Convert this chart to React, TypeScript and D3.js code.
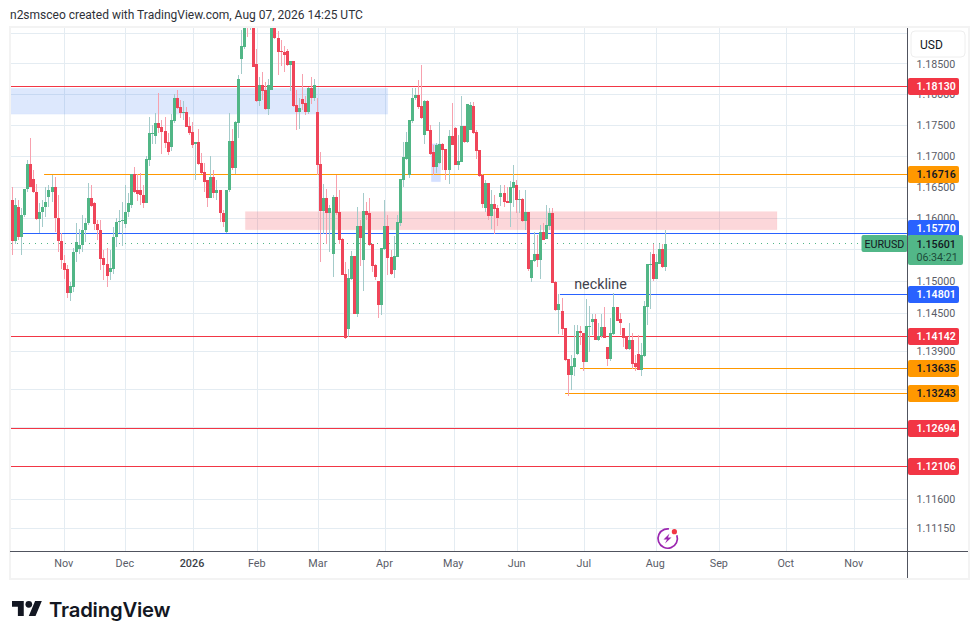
import React from "react";
import * as d3 from "d3";

const opens = [
1.1629,1.1564,1.1619,1.1570,1.1605,1.1647,1.1688,1.1664,1.1643,1.1599,
1.1610,1.1618,1.1635,1.1643,1.1651,1.1601,1.1564,1.1529,1.1519,1.1481,
1.1491,1.1546,1.1552,1.1557,1.1581,1.1592,1.1633,1.1624,1.1591,1.1582,
1.1537,1.1527,1.1515,1.1520,1.1570,1.1595,1.1596,1.1591,1.1610,1.1622,
1.1672,1.1645,1.1646,1.1638,1.1625,1.1694,1.1736,1.1733,1.1754,1.1747,
1.1741,1.1723,1.1715,1.1757,1.1794,1.1779,1.1770,1.1771,1.1749,1.1739,
1.1719,1.1723,1.1689,1.1675,1.1661,1.1633,1.1667,1.1641,1.1645,1.1609,
1.1579,1.1645,1.1725,1.1681,1.1754,1.1858,1.1877,1.1960,1.1925,1.1935,
1.1850,1.1789,1.1816,1.1807,1.1776,1.1808,1.1935,1.1893,1.1871,1.1869,
1.1871,1.1848,1.1855,1.1783,1.1771,1.1792,1.1786,1.1771,1.1810,1.1795,
1.1771,1.1688,1.1612,1.1633,1.1608,1.1543,1.1635,1.1611,1.1568,1.1511,
1.1425,1.1503,1.1540,1.1449,1.1588,1.1534,1.1612,1.1608,1.1559,1.1526,
1.1500,1.1462,1.1551,1.1588,1.1539,1.1518,1.1539,1.1593,1.1662,1.1696,
1.1669,1.1757,1.1794,1.1799,1.1781,1.1734,1.1789,1.1742,1.1706,1.1683,
1.1689,1.1720,1.1712,1.1677,1.1733,1.1746,1.1686,1.1691,1.1749,1.1723,
1.1743,1.1782,1.1739,1.1710,1.1670,1.1617,1.1657,1.1604,1.1623,1.1617,
1.1634,1.1641,1.1628,1.1625,1.1649,1.1653,1.1630,1.1631,1.1596,1.1610,
1.1506,1.1532,1.1543,1.1533,1.1578,1.1568,1.1588,1.1609,1.1499,1.1454,
1.1453,1.1426,1.1377,1.1352,1.1365,1.1385,1.1421,1.1419,1.1373,1.1429,
1.1435,1.1440,1.1408,1.1413,1.1427,1.1397,1.1377,1.1416,1.1459,1.1440,
1.1426,1.1413,1.1393,1.1408,1.1371,1.1385,1.1361,1.1382,1.1459,1.1526,
1.1544,1.1504,1.1528,1.1552,1.1522];

const highs = [
1.1650,1.1632,1.1630,1.1616,1.1648,1.1694,1.1730,1.1678,1.1656,1.1624,
1.1630,1.1650,1.1653,1.1670,1.1667,1.1638,1.1577,1.1542,1.1526,1.1499,
1.1553,1.1592,1.1583,1.1606,1.1600,1.1657,1.1654,1.1626,1.1598,1.1598,
1.1550,1.1553,1.1550,1.1587,1.1601,1.1614,1.1627,1.1654,1.1641,1.1672,
1.1683,1.1672,1.1673,1.1654,1.1701,1.1763,1.1750,1.1770,1.1803,1.1759,
1.1763,1.1737,1.1769,1.1800,1.1808,1.1791,1.1789,1.1780,1.1764,1.1755,
1.1723,1.1744,1.1705,1.1689,1.1662,1.1700,1.1678,1.1662,1.1645,1.1614,
1.1646,1.1770,1.1744,1.1757,1.1832,1.1905,1.1950,1.1975,1.1965,1.1950,
1.1874,1.1829,1.1837,1.1821,1.1826,1.1950,1.1945,1.1903,1.1889,1.1879,
1.1874,1.1855,1.1855,1.1807,1.1795,1.1834,1.1797,1.1812,1.1829,1.1826,
1.1795,1.1707,1.1656,1.1648,1.1622,1.1638,1.1669,1.1646,1.1569,1.1531,
1.1520,1.1548,1.1540,1.1618,1.1598,1.1641,1.1627,1.1632,1.1560,1.1527,
1.1500,1.1553,1.1629,1.1606,1.1550,1.1572,1.1606,1.1664,1.1723,1.1739,
1.1759,1.1811,1.1810,1.1823,1.1848,1.1791,1.1791,1.1750,1.1718,1.1721,
1.1755,1.1722,1.1712,1.1742,1.1786,1.1748,1.1734,1.1797,1.1749,1.1784,
1.1787,1.1787,1.1742,1.1710,1.1671,1.1662,1.1657,1.1645,1.1637,1.1621,
1.1653,1.1653,1.1650,1.1660,1.1686,1.1662,1.1645,1.1632,1.1645,1.1611,
1.1533,1.1578,1.1573,1.1589,1.1592,1.1621,1.1616,1.1616,1.1501,1.1480,
1.1474,1.1426,1.1378,1.1383,1.1431,1.1431,1.1429,1.1419,1.1472,1.1461,
1.1448,1.1448,1.1434,1.1448,1.1459,1.1397,1.1442,1.1482,1.1459,1.1450,
1.1426,1.1413,1.1434,1.1418,1.1383,1.1415,1.1402,1.1469,1.1527,1.1546,
1.1560,1.1544,1.1559,1.1560,1.1581];

const lows = [
1.1542,1.1560,1.1566,1.1542,1.1603,1.1642,1.1650,1.1641,1.1598,1.1577,
1.1587,1.1603,1.1619,1.1627,1.1579,1.1547,1.1520,1.1504,1.1473,1.1469,
1.1483,1.1530,1.1544,1.1547,1.1563,1.1590,1.1619,1.1582,1.1566,1.1518,
1.1502,1.1491,1.1502,1.1511,1.1555,1.1577,1.1556,1.1585,1.1603,1.1617,
1.1641,1.1628,1.1622,1.1616,1.1624,1.1684,1.1719,1.1720,1.1737,1.1704,
1.1713,1.1702,1.1708,1.1753,1.1776,1.1762,1.1759,1.1747,1.1734,1.1714,
1.1661,1.1686,1.1672,1.1642,1.1619,1.1632,1.1633,1.1630,1.1594,1.1587,
1.1577,1.1643,1.1678,1.1671,1.1729,1.1834,1.1875,1.1894,1.1905,1.1844,
1.1788,1.1781,1.1791,1.1775,1.1767,1.1807,1.1890,1.1832,1.1847,1.1836,
1.1847,1.1805,1.1780,1.1742,1.1744,1.1775,1.1767,1.1769,1.1785,1.1789,
1.1670,1.1531,1.1576,1.1560,1.1547,1.1507,1.1606,1.1559,1.1510,1.1409,
1.1412,1.1502,1.1448,1.1443,1.1524,1.1484,1.1598,1.1556,1.1515,1.1502,
1.1442,1.1446,1.1550,1.1510,1.1510,1.1505,1.1538,1.1588,1.1651,1.1694,
1.1665,1.1753,1.1791,1.1777,1.1760,1.1720,1.1740,1.1702,1.1670,1.1673,
1.1688,1.1678,1.1662,1.1656,1.1718,1.1686,1.1677,1.1690,1.1721,1.1722,
1.1742,1.1736,1.1696,1.1667,1.1617,1.1610,1.1597,1.1583,1.1576,1.1588,
1.1620,1.1619,1.1624,1.1587,1.1619,1.1608,1.1608,1.1595,1.1581,1.1517,
1.1499,1.1530,1.1522,1.1503,1.1565,1.1567,1.1581,1.1498,1.1453,1.1417,
1.1415,1.1375,1.1319,1.1329,1.1351,1.1383,1.1399,1.1359,1.1372,1.1389,
1.1415,1.1407,1.1405,1.1411,1.1410,1.1367,1.1375,1.1415,1.1437,1.1415,
1.1397,1.1391,1.1392,1.1362,1.1359,1.1361,1.1351,1.1381,1.1431,1.1456,
1.1501,1.1503,1.1527,1.1521,1.1517];

const closes = [
1.1564,1.1622,1.1570,1.1606,1.1648,1.1688,1.1650,1.1642,1.1599,1.1611,
1.1619,1.1627,1.1645,1.1651,1.1600,1.1564,1.1534,1.1518,1.1481,1.1492,
1.1547,1.1563,1.1557,1.1582,1.1593,1.1633,1.1620,1.1591,1.1581,1.1536,
1.1526,1.1508,1.1521,1.1571,1.1595,1.1596,1.1597,1.1611,1.1624,1.1672,
1.1643,1.1640,1.1637,1.1625,1.1696,1.1738,1.1738,1.1754,1.1746,1.1739,
1.1722,1.1707,1.1759,1.1794,1.1778,1.1770,1.1771,1.1748,1.1738,1.1718,
1.1723,1.1688,1.1673,1.1659,1.1632,1.1667,1.1641,1.1645,1.1608,1.1595,
1.1646,1.1725,1.1681,1.1755,1.1826,1.1879,1.1935,1.1925,1.1950,1.1845,
1.1789,1.1816,1.1805,1.1776,1.1815,1.1935,1.1892,1.1869,1.1869,1.1864,
1.1848,1.1855,1.1781,1.1771,1.1778,1.1784,1.1771,1.1810,1.1795,1.1816,
1.1686,1.1612,1.1633,1.1608,1.1617,1.1635,1.1609,1.1566,1.1510,1.1411,
1.1505,1.1540,1.1449,1.1588,1.1569,1.1612,1.1606,1.1558,1.1524,1.1507,
1.1462,1.1553,1.1588,1.1537,1.1511,1.1540,1.1595,1.1664,1.1698,1.1723,
1.1759,1.1795,1.1799,1.1779,1.1762,1.1789,1.1741,1.1704,1.1683,1.1718,
1.1720,1.1710,1.1677,1.1733,1.1718,1.1686,1.1693,1.1749,1.1723,1.1784,
1.1783,1.1737,1.1708,1.1668,1.1623,1.1657,1.1604,1.1623,1.1615,1.1601,
1.1641,1.1626,1.1625,1.1650,1.1658,1.1629,1.1631,1.1596,1.1610,1.1519,
1.1533,1.1543,1.1533,1.1578,1.1565,1.1589,1.1609,1.1498,1.1454,1.1464,
1.1424,1.1376,1.1352,1.1366,1.1379,1.1421,1.1419,1.1373,1.1430,1.1430,
1.1440,1.1408,1.1414,1.1427,1.1411,1.1377,1.1418,1.1459,1.1438,1.1434,
1.1411,1.1393,1.1408,1.1369,1.1365,1.1361,1.1384,1.1461,1.1527,1.1527,
1.1504,1.1530,1.1552,1.1522,1.1560];

const priceGrid = [1.19,1.185,1.18,1.175,1.17,1.165,1.16,1.155,1.15,1.145,1.139,1.133,1.127,1.121,1.116,1.1115];
const priceLabels = [1.185,1.18,1.175,1.17,1.165,1.16,1.15,1.145,1.139,1.116,1.1115];
const monthLabels = ["Nov","Dec","2026","Feb","Mar","Apr","May","Jun","Jul","Aug","Sep","Oct","Nov"];
const monthBars = [17,37,59,80.2,100.2,122,144.5,165.3,187.3,210.7,231.5,253.4,275.7];

const redLevels = [1.1813,1.14142,1.12694,1.12106];
const orangeLevels = [1.16716,1.13635,1.13243];
const blueLevels = [1.1577,1.14801];
const lastPrice = 1.15601;
const lastCountdown = "06:34:21";
const symbol = "EURUSD";
const currency = "USD";
const necklineText = "neckline";
const headerText = "n2smsceo created with TradingView.com, Aug 07, 2026 14:25 UTC";
const brandText = "TradingView";

// zones: [first bar, last bar, upper price, lower price]
const blueZone = [-1, 122.9, 1.1810, 1.1768];
const pinkZone = [76.3, 250.4, 1.1611, 1.1582];
const smallZone = [137.2, 140.2, 1.1720, 1.1659];
// where lines drawn from a bar rather than from the chart edge
const lineStartBar = new Map<number, number>([[1.16716,10.4],[1.14801,179.3],[1.13635,185.9],[1.13243,181]]);
// tags that the axis pushes aside so they stay readable
const tagShift = new Map<number, number>([[1.1577,-4.5]]);

const C = {
  red: "#f23645", orange: "#ff9800", blue: "#2962ff", up: "#51b686", down: "#ef4559",
  upWick: "#a4cbca", downWick: "#f7a1ae", grid: "#e4ecf2", axis: "#50535e", frame: "#f3f3f3",
  tick: "#5a5d68", lastBg: "#52b788",
};
const FONT = "Roboto, 'Liberation Sans', sans-serif";

const x = d3.scaleLinear().domain([0, 214]).range([12.33, 12.33 + 3.054 * 214]);
const y = d3.scaleLog().base(Math.E).domain([1.1115, 1.185]).range([528.3, 63.8]);
const L = 11, R = 907, T = 28, B = 551;

function hy(v: number) { return Math.round(y(v)) + 0.5; }
function gy(v: number) { return Math.round(y(v) - 0.35) + 0.5; }

function Tag({ v, color, text, textColor }: { v: number; color: string; text: string; textColor: string }) {
  const yy = y(v) + (tagShift.get(v) ?? 0);
  return (
    <g>
      <rect x={908} y={Math.round(yy) - 8} width={51} height={17} rx={2} fill={color} />
      <text x={916.5} y={yy + 4} fontFamily={FONT} fontSize={10.6} fontWeight={600} fill={textColor}>{text}</text>
    </g>
  );
}

function Zone({ z, fill, stroke }: { z: number[]; fill: string; stroke: string }) {
  const x0 = x(z[0]), x1 = x(z[1]), y0 = y(z[2]), y1 = y(z[3]);
  return <rect x={x0} y={y0} width={x1 - x0} height={y1 - y0} fill={fill} stroke={stroke} strokeWidth={1} />;
}

function Level({ v, color }: { v: number; color: string }) {
  const s = lineStartBar.get(v);
  return <line x1={s === undefined ? L : x(s)} x2={R} y1={hy(v)} y2={hy(v)} stroke={color} strokeWidth={1} />;
}

export default function App() {
  React.useEffect(() => { document.body.style.background = "#fff"; document.body.style.margin = "0"; }, []);
  return (
    <svg width={979} height={639} viewBox="0 0 979 639" style={{ display: "block", position: "absolute", left: 0, top: 0 }}>
      <defs>
        <clipPath id="plot"><rect x={L} y={T} width={R - L} height={B - T} /></clipPath>
      </defs>
      <rect width={979} height={639} fill="#fff" />
      <text x={10} y={19} fontFamily={FONT} fontSize={12} fill="#2e3138">{headerText}</text>

      <rect x={10} y={27} width={959} height={552} fill="#fff" stroke={C.frame} strokeWidth={2} />

      <g clipPath="url(#plot)">
        {priceGrid.map(t => <line key={t} x1={L} x2={R} y1={gy(t)} y2={gy(t)} stroke={C.grid} />)}
        {monthBars.map((b, i) => <line key={i} x1={Math.round(x(b)) + 0.5} x2={Math.round(x(b)) + 0.5} y1={T} y2={B} stroke={C.grid} />)}

        <Zone z={blueZone} fill="rgba(41,110,245,0.16)" stroke="rgba(41,98,255,0.03)" />
        <Zone z={pinkZone} fill="rgba(242,54,69,0.2)" stroke="rgba(242,54,69,0.03)" />
        <Zone z={smallZone} fill="rgba(41,98,255,0.2)" stroke="rgba(41,98,255,0.04)" />

        {redLevels.map(v => <Level key={v} v={v} color={C.red} />)}
        {orangeLevels.map(v => <Level key={v} v={v} color={C.orange} />)}
        {blueLevels.map(v => <Level key={v} v={v} color={C.blue} />)}
        <line x1={L} x2={R} y1={hy(lastPrice)} y2={hy(lastPrice)} stroke={C.up} strokeDasharray="1 5" />

        {opens.map((o, i) => {
          const c = closes[i], up = c >= o;
          const px = Math.floor(x(i));
          const top = Math.round(y(Math.max(o, c)));
          const bot = Math.round(y(Math.min(o, c)));
          const hi = Math.round(y(highs[i]));
          const lo = Math.round(y(lows[i]));
          return (
            <g key={i}>
              <rect x={px} y={hi} width={1} height={Math.max(1, lo - hi)} fill={up ? C.upWick : C.downWick} />
              <rect x={px - 1} y={top} width={3} height={Math.max(1, bot - top)} fill={up ? C.up : C.down} />
            </g>
          );
        })}

        <text x={600.5} y={289} textAnchor="middle" fontFamily={FONT} fontSize={14.3} fill="#3f424c">{necklineText}</text>

        <g>
          <circle cx={667.7} cy={538.5} r={9.7} fill="none" stroke="#9c27b0" strokeWidth={1.7} strokeDasharray="50 11" transform="rotate(-20 667.7 538.5)" />
          <path d="M669.5 533.5 L663.5 539.5 L667 539.5 L665 543.5 L671.5 537.5 L668 537.5 Z" fill="#9c27b0" />
          <circle cx={674.4} cy={531.7} r={2.6} fill={C.red} />
        </g>
      </g>

      {/* price axis */}
      {priceLabels.map(t => (
        <text key={t} x={916.5} y={y(t) + 4} fontFamily={FONT} fontSize={10.7} fill={C.tick}>{t.toFixed(5)}</text>
      ))}
      <rect x={908} y={28} width={59.5} height={31.5} fill="#fff" />
      <rect x={911} y={31} width={54} height={26} rx={4} fill="#fff" stroke="#eeeeee" />
      <text x={920} y={48.5} fontFamily={FONT} fontSize={12} fill="#131722">{currency}</text>

      {redLevels.map(v => <Tag key={v} v={v} color={C.red} text={v.toFixed(5)} textColor="#fff" />)}
      {orangeLevels.map(v => <Tag key={v} v={v} color={C.orange} text={v.toFixed(5)} textColor="#131722" />)}
      {blueLevels.map(v => <Tag key={v} v={v} color={C.blue} text={v.toFixed(5)} textColor="#fff" />)}

      {/* last price */}
      <rect x={861.5} y={235} width={46} height={17} rx={2} fill={C.lastBg} />
      <text x={864.5} y={248} fontFamily={FONT} fontSize={10.7} fill="#131722">{symbol}</text>
      <rect x={908} y={235} width={55} height={30} rx={2} fill={C.lastBg} />
      <text x={916.5} y={248} fontFamily={FONT} fontSize={10.7} fontWeight={500} fill="#131722">{lastPrice.toFixed(5)}</text>
      <text x={916.5} y={261} fontFamily={FONT} fontSize={10.7} fill="#1d4d3a">{lastCountdown}</text>

      {/* axes */}
      <line x1={10} x2={968} y1={551.5} y2={551.5} stroke={C.axis} />
      <line x1={907.5} x2={907.5} y1={T} y2={578} stroke={C.axis} />
      {monthBars.map((b, i) => (
        <text key={i} x={x(b) - 0.5} y={567} textAnchor="middle" fontFamily={FONT} fontSize={10.8}
          fontWeight={monthLabels[i] === "2026" ? 500 : 400} fill={monthLabels[i] === "2026" ? "#3c3f49" : C.tick}>{monthLabels[i]}</text>
      ))}

      {/* brand */}
      <g transform="translate(12 597.6) scale(0.84)" fill="#131722">
        <path d="M14 22H7V11H0V4h14v18zM28 22h-8l7.5-18h8L28 22z" />
        <circle cx={20} cy={8} r={4} />
      </g>
      <text x={49} y={617} fontFamily="Inter, Roboto, sans-serif" fontSize={20.3} fontWeight={600} fill="#131722" letterSpacing={-0.2}>{brandText}</text>
    </svg>
  );
}
